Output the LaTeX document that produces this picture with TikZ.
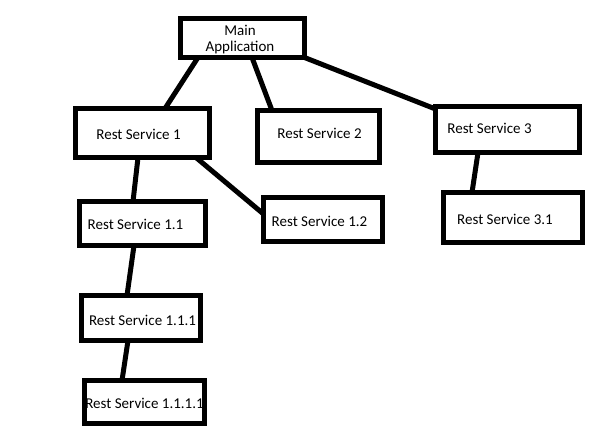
\documentclass[tikz,border=0pt]{standalone}
\usepackage{fontspec}
\setmainfont{Carlito}
\begin{document}
\begin{tikzpicture}[x=1pt,y=-1pt,
  box/.style={draw=black,line width=5pt,fill=white,rectangle,inner sep=0pt,outer sep=0pt},
  txt/.style={inner sep=0pt,font=\fontsize{15}{16}\selectfont,text=black},
  conn/.style={draw=black,line width=5pt}]
\useasboundingbox[fill=white] (0,0) rectangle (593,445);
% boxes
\node[box,minimum width=124pt,minimum height=39pt] (main) at (242.5,38) {};
\node[box,minimum width=134pt,minimum height=49pt] (rs1) at (142.5,133) {};
\node[box,minimum width=122pt,minimum height=52pt] (rs2) at (318.5,136.5) {};
\node[box,minimum width=144pt,minimum height=46pt] (rs3) at (507.5,129.5) {};
\node[box,minimum width=139pt,minimum height=50pt] (rs31) at (513,217.5) {};
\node[box,minimum width=126pt,minimum height=44pt] (rs11) at (142.5,223.5) {};
\node[box,minimum width=119pt,minimum height=44pt] (rs12) at (323,219.5) {};
\node[box,minimum width=119pt,minimum height=45pt] (rs111) at (141,318) {};
\node[box,minimum width=120pt,minimum height=43pt] (rs1111) at (144.5,402) {};
% texts
\node[txt,align=center] (tmain) at (240,40) {Main\\Application};
\node[txt] (t1) at (138.5,134) {Rest Service 1};
\node[txt] (t2) at (319.5,133) {Rest Service 2};
\node[txt] (t3) at (489.5,128) {Rest Service 3};
\node[txt] (t31) at (505,219) {Rest Service 3.1};
\node[txt] (t11) at (135.5,224) {Rest Service 1.1};
\node[txt] (t12) at (319.5,221) {Rest Service 1.2};
\node[txt] (t111) at (142.5,320) {Rest Service 1.1.1};
\node[txt] (t1111) at (144.5,403) {Rest Service 1.1.1.1};
% connectors
\draw[conn] ([xshift=17.5pt]main.south west) -- ([xshift=89.5pt]rs1.north west);
\draw[conn] ([xshift=71.5pt]main.south west) -- ([xshift=14.5pt]rs2.north west);
\draw[conn] (main.south east) -- ([yshift=-2.5pt]rs3.north west);
\draw[conn] ([xshift=42.5pt]rs3.south west) -- ([xshift=28.5pt]rs31.north west);
\draw[conn] ([xshift=62.5pt]rs1.south west) -- ([xshift=53.5pt]rs11.north west);
\draw[conn] ([xshift=120.5pt]rs1.south west) -- ([yshift=-16.5pt]rs12.north west);
\draw[conn] ([xshift=54.5pt]rs11.south west) -- ([xshift=45.5pt]rs111.north west);
\draw[conn] ([xshift=46.5pt]rs111.south west) -- ([xshift=37.5pt]rs1111.north west);
\end{tikzpicture}
\end{document}
